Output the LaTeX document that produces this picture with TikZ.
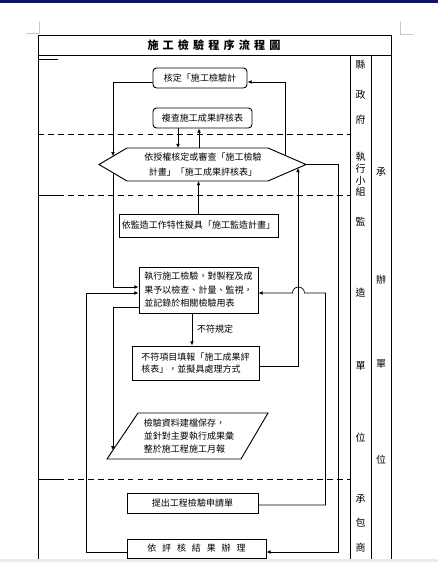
\documentclass[tikz,border=0pt]{standalone}
\usepackage{fontspec}
\setmainfont{Noto Sans CJK TC}
\usepackage{tikz}
\usetikzlibrary{positioning,arrows.meta,calc}
\usepackage{xcolor}
\definecolor{pagebar}{RGB}{12,18,112}
\definecolor{markgray}{RGB}{200,200,200}
\newcommand{\pxl}{0.03cm}

\begin{document}
\begin{tikzpicture}[x=0.03cm, y=-0.03cm,
    box/.style={draw, line width=0.8pt, inner sep=0pt, align=center,
                font=\fontsize{7.7}{11.5}\selectfont},
    rbox/.style={box, rounded corners=3pt},
    txt/.style={inner sep=0pt, align=center, font=\fontsize{7.7}{11.5}\selectfont},
    lane/.style={line width=0.6pt, dash pattern=on 5pt off 3.5pt},
    arr/.style={-{Latex[length=3.6pt,width=3.2pt]}, line width=0.6pt},
    col/.style={inner sep=0pt, font=\fontsize{8.5}{10}\selectfont}]
    \useasboundingbox (0,0) rectangle (438,562);

    % page marks of the screenshot
    \fill[pagebar] (0,0) rectangle (438,2.7);
    \fill[black!8] (0,559) rectangle (438,562);
    \draw[markgray] (26,33) -- (39,33) -- (39,21);
    \draw[markgray] (413,34) -- (400,34) -- (400,21);

    % frame and lanes
    \draw[line width=0.8pt] (38,559) -- (38,35) -- (391,35) -- (391,559);
    \draw[line width=0.8pt] (38,55) -- (391,55);
    \draw[line width=0.8pt] (350,55) -- (350,559);
    \draw[line width=0.8pt] (371,55) -- (371,559);
    \draw[line width=0.6pt] (38,59) -- (58,59);
    \foreach \yy in {134,195,479}
      \draw[lane] (38,\yy) -- (350,\yy);
    \draw[line width=0.6pt] (38,195) -- (58,195);
    \draw[line width=0.6pt] (38,479) -- (58,479);

    \node[font=\fontsize{9.5}{12}\selectfont\bfseries] (ttl) at (214,45)
      {施\hspace{3.5pt}工\hspace{3.5pt}檢\hspace{3.5pt}驗\hspace{3.5pt}程\hspace{3.5pt}序\hspace{3.5pt}流\hspace{3.5pt}程\hspace{3.5pt}圖};

    % lane names
    \foreach \ch/\yy [count=\i] in {縣/65,政/95,府/120,執/157,行/169,小/181,組/192,
                                    監/222,造/293,單/366,位/438,承/499,包/523,商/548}
      \node[col] (la\i) at (360.5,\yy) {\ch};
    \foreach \ch/\yy [count=\i] in {承/172,辦/280,單/364,位/460}
      \node[col] (lb\i) at (381,\yy) {\ch};

    % steps
    \node[rbox, minimum width=94*\pxl, minimum height=20*\pxl] (apv) at (200,78)
      {核定「施工檢驗計};
    \node[rbox, minimum width=99*\pxl, minimum height=20*\pxl] (rev) at (202.5,118)
      {複查施工成果評核表};

    \coordinate (hW) at (99,164.5);
    \coordinate (hNW) at (127,148);
    \coordinate (hNE) at (268,148);
    \coordinate (hE) at (306,164.5);
    \coordinate (hSE) at (268,181);
    \coordinate (hSW) at (127,181);
    \draw[line width=0.8pt] (hW) -- (hNW) -- (hNE) -- (hE) -- (hSE) -- (hSW) -- cycle;
    \node[txt, font=\fontsize{7.7}{12.8}\selectfont] (chk) at (203,164.5)
      {依授權核定或審查「施工檢驗\\計畫」「施工成果評核表」};

    \node[box, minimum width=159*\pxl, minimum height=23*\pxl] (plan) at (198.5,225.5)
      {依監造工作特性擬具「施工監造計畫」};
    \node[box, align=left, minimum width=119*\pxl, minimum height=46*\pxl] (exec) at (198.5,290)
      {執行施工檢驗，對製程及成\\果予以檢查、計量、監視，\\並記錄於相關檢驗用表};
    \node[box, align=left, font=\fontsize{7.7}{9.8}\selectfont,
          minimum width=127*\pxl, minimum height=34*\pxl] (ncr) at (195.5,363)
      {不符項目填報「施工成果評\\核表」，並擬具處理方式};

    \coordinate (pSW) at (107,459);
    \coordinate (pNW) at (138,413);
    \coordinate (pNE) at (268,413);
    \coordinate (pSE) at (241,459);
    \draw[line width=0.8pt] (pSW) -- (pNW) -- (pNE) -- (pSE) -- cycle;
    \node[txt, align=left, font=\fontsize{7.7}{11.1}\selectfont] (rec) at (189,436)
      {檢驗資料建檔保存，\\並針對主要執行成果彙\\整於施工程施工月報};

    \node[box, minimum width=131*\pxl, minimum height=20*\pxl] (prop) at (192.5,503)
      {提出工程檢驗申請單};
    \node[box, minimum width=139*\pxl, minimum height=19*\pxl] (fin) at (196.5,548.5)
      {依\hspace{5pt}評\hspace{5pt}核\hspace{5pt}結\hspace{5pt}果\hspace{5pt}辦\hspace{5pt}理};

    % connectors
    \coordinate (rgt) at (338,0);
    \coordinate (rvA) at ($(rev.south)+(-24.5,0)$);
    \coordinate (rvB) at ($(rev.south)+(-3.5,0)$);
    \coordinate (exS) at ($(exec.south)+(-6.5,0)$);
    \draw[arr] ($(hNE)!0.45!(hE)$) |- ($(apv.east)+(0,4)$);
    \draw[arr] ($(apv.west)+(0,4)$) -| ($(hW)!0.5!(hNW)$);
    \draw[arr] (rvA) -- (rvA |- hNW);
    \draw[arr] (rvB |- hNW) -- (rvB);
    \draw[arr] (plan.north) -- (plan.north |- hSW);
    \draw[arr] ($(hW)!0.5!(hSW)$) |- ($(exec.west)+(0,-3)$);
    \draw[arr] (exS) -- (exS |- ncr.north)
      node[midway, right=4pt, txt] (nok) {不符規定};
    \draw[arr] ($(ncr.east)+(0,3)$) -| ($(hE)!0.21!(hSE)$);
    \draw[arr] ($(exec.west)+(0,17)$) -| ($(pSW)!0.19!(pNW)$);
    \draw[arr] (hE) -- (hE -| rgt) |- ($(fin.east)+(0,3.5)$);
    \draw[arr] ($(fin.west)+(0,3.5)$) -| ($(exec.west)+(-52,3)$) -- ($(exec.west)+(0,3)$);
    \draw[arr] ($(prop.east)+(0,2)$) -| ($(exec.east)+(67,3)$) -- ($(exec.east)+(46,3)$)
      arc[start angle=0, end angle=180, radius=0.18cm] -- ($(exec.east)+(0,3)$);
  \end{tikzpicture}
\end{document}
